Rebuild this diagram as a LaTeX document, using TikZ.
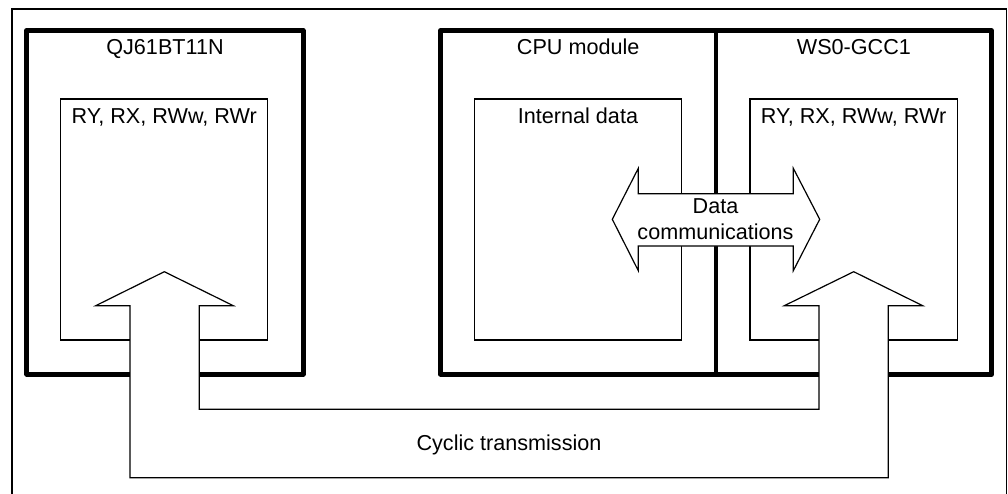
\documentclass[tikz,border=0pt]{standalone}
\usepackage{fontspec}
\setmainfont{Liberation Sans}
\begin{document}
\begin{tikzpicture}[x=1pt,y=-1pt,
  heavybox/.style={draw=black,line width=4.5pt,line join=round,anchor=north west,inner sep=0pt,outer sep=0pt},
  thinbox/.style={draw=black,line width=1.2pt,anchor=north west,inner sep=0pt,outer sep=0pt},
  frameline/.style={draw=black,line width=1.8pt},
  bigarrow/.style={draw=black,fill=white,line width=1.2pt,line join=miter},
  lbl/.style={anchor=base,inner sep=0pt,font=\fontsize{21.6}{26}\selectfont}]
\useasboundingbox (0,0) rectangle (1008,494);
% outer frame (bottom edge lies outside the picture)
\coordinate (fbl) at (12,494);
\coordinate (ftl) at (12,9.3);
\coordinate (ftr) at (1006.5,9.3);
\coordinate (fbr) at (1006.5,494);
\draw[frameline] (fbl) -- (ftl) -- (ftr) -- (fbr);
% module boxes
\node[heavybox,minimum width=276.6pt,minimum height=343.8pt] (qj) at (26.7,30.5) {};
\node[heavybox,minimum width=275.5pt,minimum height=343.8pt] (cpu) at (440.5,30.5) {};
\node[heavybox,minimum width=275.7pt,minimum height=343.8pt] (ws) at (716,30.5) {};
% inner data boxes
\node[thinbox,minimum width=207pt,minimum height=241pt] (qjin) at (60.7,99) {};
\node[thinbox,minimum width=207.3pt,minimum height=241pt] (cpuin) at (474.4,99) {};
\node[thinbox,minimum width=207.3pt,minimum height=241pt] (wsin) at (750,99) {};
% data communications double arrow
\draw[bigarrow] (612.3,219.3) -- (638.3,168.3) -- (638.3,193.7) -- (793.3,193.7)
  -- (793.3,168.3) -- (819.7,219.3) -- (793.3,270.7) -- (793.3,246)
  -- (638.3,246) -- (638.3,270.7) -- cycle;
% cyclic transmission U-shaped double arrow
\draw[bigarrow] (164.3,271.7) -- (233.3,305.7) -- (199.3,305.7) -- (199.3,409.3)
  -- (819,409.3) -- (819,305.7) -- (784.3,305.7) -- (853.7,271.7)
  -- (922.7,305.7) -- (888.3,305.7) -- (888.3,477.7) -- (130,477.7)
  -- (130,305.7) -- (95.7,305.7) -- cycle;
% texts
\node[lbl] (tqj) at (165,55) {QJ61BT11N};
\node[lbl] (tcpu) at (578.2,55) {CPU module};
\node[lbl] (tws) at (853.9,55) {WS0-GCC1};
\node[lbl] (lqj) at (164.2,123.3) {RY, RX, RWw, RWr};
\node[lbl] (lcpu) at (578,123.3) {Internal data};
\node[lbl] (lws) at (853.6,123.3) {RY, RX, RWw, RWr};
\node[lbl] (ldata) at (715.5,213.3) {Data};
\node[lbl] (lcomm) at (715.5,240) {communications};
\node[lbl] (lcyc) at (509,450.7) {Cyclic transmission};
\end{tikzpicture}
\end{document}
